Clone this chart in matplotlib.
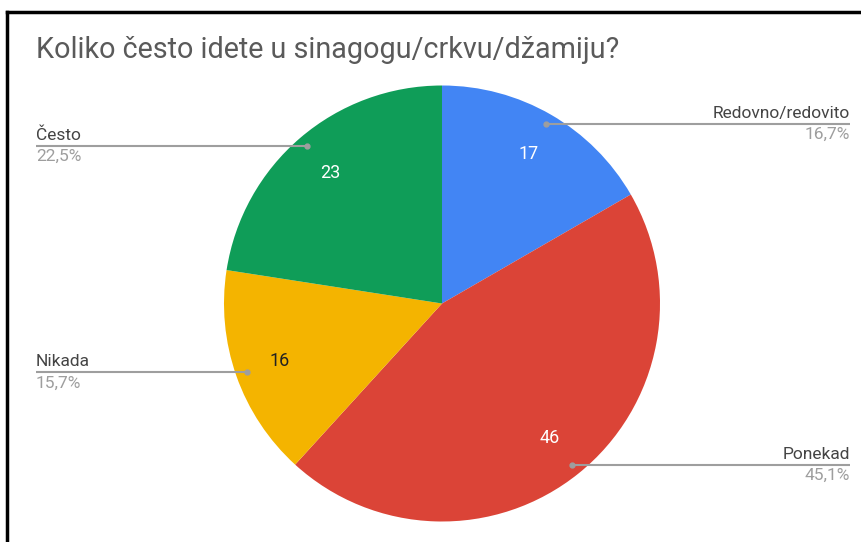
import numpy as np
import matplotlib.pyplot as plt

plt.rcParams['font.family'] = ['Roboto', 'DejaVu Sans']

title = "Koliko često idete u sinagogu/crkvu/džamiju?"
categories = ["Redovno/redovito", "Ponekad", "Nikada", "Često"]
counts = [17, 46, 16, 23]
percents = ["16,7%", "45,1%", "15,7%", "22,5%"]
colors = ["#4285F4", "#DB4437", "#F4B400", "#0F9D58"]
value_colors = ["white", "white", "#222222", "white"]

W, H = 862, 542
fig = plt.figure(figsize=(W / 100, H / 100), dpi=100)
ax = fig.add_axes([0, 0, 1, 1])

cx, cy, r = 442, H - 303.5, 218
total = sum(counts)

wedges, texts, autotexts = ax.pie(
    counts, colors=colors, startangle=90, counterclock=False,
    center=(cx, cy), radius=r, pctdistance=0.79,
    autopct=lambda p: f"{round(p * total / 100)}",
    wedgeprops=dict(linewidth=0), textprops=dict(fontsize=13),
    frame=True,
)
ax.set_xlim(0, W)
ax.set_ylim(0, H)
ax.set_aspect("equal")
ax.axis("off")
for t, c in zip(autotexts, value_colors):
    t.set_color(c)

# leader lines + labels
for w, name, pct in zip(wedges, categories, percents):
    ang = np.deg2rad((w.theta1 + w.theta2) / 2)
    dx = cx + 0.95 * r * np.cos(ang)
    dy = cy + 0.95 * r * np.sin(ang)
    if np.cos(ang) > 0:
        x0, x1, tx, ha = dx, 850, 850, "right"
    else:
        x0, x1, tx, ha = 36, dx, 36, "left"
    ax.plot([x0, x1], [dy, dy], color="#9e9e9e", lw=1.5, solid_capstyle="butt")
    ax.plot(dx, dy, "o", color="#9e9e9e", ms=3.5)
    ax.text(tx, dy + 3, name, ha=ha, va="bottom", fontsize=12.5, color="#444444")
    ax.text(tx, dy - 3, pct, ha=ha, va="top", fontsize=12.5, color="#9e9e9e")

ax.text(36, H - 50, title, ha="left", va="center", fontsize=20.7, color="#5a5a5a")

# frame (left and top edges visible)
ax.plot([7, 7], [0, H - 12], color="black", lw=2.5)
ax.plot([7, W], [H - 12, H - 12], color="black", lw=2.5)

fig.savefig("out.png", dpi=100)
